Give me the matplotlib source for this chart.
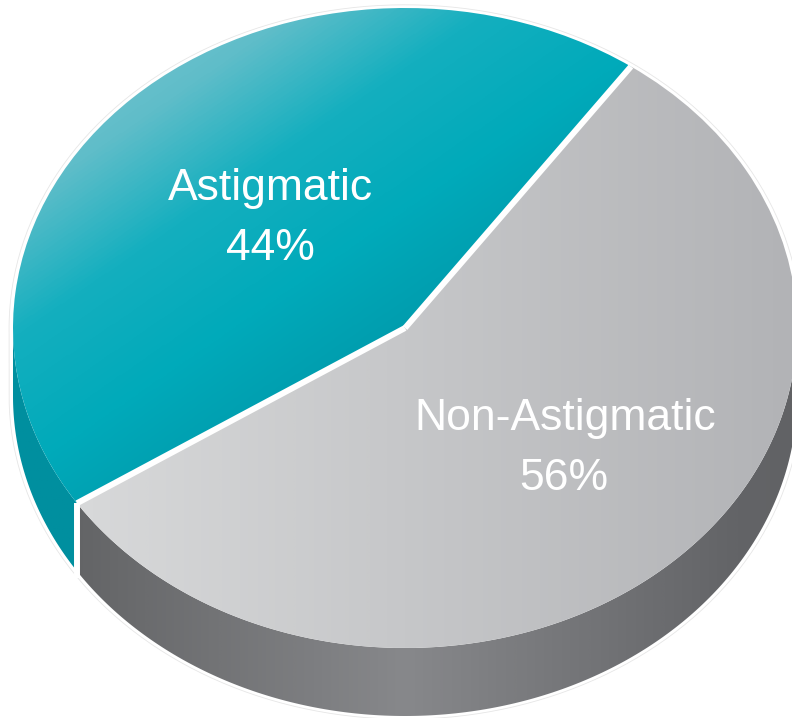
import matplotlib
matplotlib.use('Agg')
import matplotlib.pyplot as plt
import numpy as np
from matplotlib.colors import LinearSegmentedColormap
from matplotlib.patches import Polygon

labels = ['Astigmatic', 'Non-Astigmatic']
shares = [44, 56]

W, H = 792, 718
cx, cy = 405, 328   # centre of top face, px
rx, ry = 392, 320
depth = 68
startAngle = 54.8

plt.rcParams['font.family'] = ['Liberation Sans', 'DejaVu Sans']
fig = plt.figure(figsize=(W / 100, H / 100), dpi=100)

d = depth / ry
bottom = -1 - d - 0.05

# unit pie squeezed into the ellipse box, axes run on down to hold the side wall
ax = fig.add_axes([(cx - rx) / W, 1 - (cy + ry * -bottom) / H, 2 * rx / W, ry * (1 - bottom) / H])
wedges, _ = ax.pie(shares, startangle=startAngle, radius=1, wedgeprops=dict(linewidth=0))
ax.set_xlim(-1, 1)
ax.set_ylim(bottom, 1)
ax.set_aspect('auto')
ax.axis('off')
for w in wedges:
    w.set_facecolor('none')

def shade(patch, stops, angle, z):
    # linear gradient clipped to a patch
    x, y = np.meshgrid(np.linspace(-1, 1, 500), np.linspace(1, bottom, 650))
    t = (x * np.cos(angle) + y * np.sin(angle) + 1.42) / 2.84
    cmap = LinearSegmentedColormap.from_list('g', stops)
    im = ax.imshow(t, cmap=cmap, vmin=0, vmax=1, extent=(-1, 1, bottom, 1), aspect='auto', zorder=z)
    im.set_clip_path(patch)

ang = startAngle + np.cumsum([0] + shares[:1]) * 3.6
ang = np.radians(ang)

def sideWall(a0, a1):
    th = np.linspace(a0, a1, 200)
    up = np.column_stack([np.cos(th), np.sin(th)])
    low = up - [0, d]
    p = Polygon(np.vstack([up, low[::-1]]), closed=True, facecolor='none', edgecolor='none', transform=ax.transData)
    ax.add_patch(p)
    return p

# side walls, split at the lower left radius
tealWall = sideWall(np.pi, ang[1])
grayWall = sideWall(ang[1], 2 * np.pi)
shade(tealWall, [(0, '#008f9f'), (1, '#008f9f')], 0, 1)
shade(grayWall, [(0, '#5f6062'), (0.2, '#636466'), (0.5, '#87888b'), (0.8, '#636467'), (1, '#5c5d5f')], 0, 1)

# top faces
shade(wedges[0], [(0, '#8ccdd7'), (0.17, '#5fbdc9'), (0.28, '#14afbf'), (0.4, '#00aaba'), (0.5, '#009dae'), (1, '#0095a6')], np.radians(-50), 2)
shade(wedges[1], [(0, '#dcdcde'), (0.2, '#d8d9da'), (0.5, '#c6c7c9'), (0.85, '#b2b3b6'), (1, '#b0b1b3')], 0, 2)

# white separators
for a in ang:
    ax.plot([0, np.cos(a)], [0, np.sin(a)], color='white', lw=4.3, zorder=4, solid_capstyle='butt')
a = ang[1]
ax.plot([np.cos(a), np.cos(a)], [np.sin(a), np.sin(a) - d - 0.02], color='white', lw=4.3, zorder=4, solid_capstyle='butt')

# faint outline outside the white halo
th = np.linspace(0, 2 * np.pi, 400)
halo = 1.01
ox = halo * np.cos(th)
oy = halo * np.sin(th) - np.where(np.sin(th) < 0, d, 0)
ax.plot(ox, oy, color='#e6e6e6', lw=0.6, zorder=1, clip_on=False)

axText = fig.add_axes([0, 0, 1, 1], zorder=3)
axText.set_xlim(0, W)
axText.set_ylim(H, 0)
axText.axis('off')
textStyle = dict(color='white', fontsize=32, ha='center', va='baseline')
axText.text(270, 200, labels[0], **textStyle)
axText.text(270, 260, f'{shares[0]}%', **textStyle)
axText.text(565, 430, labels[1], **textStyle)
axText.text(564, 490, f'{shares[1]}%', **textStyle)

fig.savefig('out.png', dpi=100, facecolor='white')
